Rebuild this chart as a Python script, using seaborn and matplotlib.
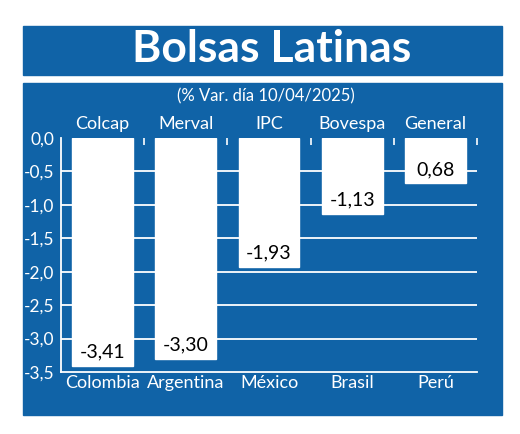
import matplotlib
matplotlib.use('Agg')
import matplotlib.pyplot as plt
import seaborn as sns
import pandas as pd
from matplotlib.patches import Rectangle
from matplotlib.ticker import FixedLocator

# Data
paises = ['Colombia', 'Argentina', 'México', 'Brasil', 'Perú']
indices = ['Colcap', 'Merval', 'IPC', 'Bovespa', 'General']
variacion = [-3.41, -3.30, -1.93, -1.13, 0.68]
y_ticks = [0.0, -0.5, -1.0, -1.5, -2.0, -2.5, -3.0, -3.5]

azul = '#1063a7'
W, H = 520, 434

sns.set_theme(style='white')
plt.rcParams['font.family'] = ['Lato', 'DejaVu Sans']

df = pd.DataFrame({'pais': paises, 'indice': indices, 'var': variacion})
# the source draws every bar downward from zero, even the positive one
df['alto'] = -df['var'].abs()

fig = plt.figure(figsize=(W / 100, H / 100), dpi=100)
fig.patch.set_facecolor('white')

# blue title box and chart panel (behind the axes)
fig.patches.append(Rectangle((23 / W, 1 - 75 / H), 479 / W, 49 / H,
                             transform=fig.transFigure, color=azul, zorder=-10))
fig.patches.append(Rectangle((23 / W, 1 - 415 / H), 479 / W, 332 / H,
                             transform=fig.transFigure, color=azul, zorder=-10))
fig.text(272 / W, 1 - 49 / H, 'Bolsas Latinas', color='white', fontsize=32,
         fontweight='bold', ha='center', va='center')
fig.text(266 / W, 1 - 96 / H, '(% Var. día 10/04/2025)', color='white',
         fontsize=12, ha='center', va='center')

ax = fig.add_axes([61 / W, 62 / H, 416 / W, 234 / H])
ax.set_facecolor(azul)
ax.set_zorder(1)

sns.barplot(data=df, x='pais', y='alto', color='white', width=0.73,
            saturation=1, ax=ax, zorder=3)

ax.set_ylim(-3.5, 0)
ax.set_xlim(-0.5, len(paises) - 0.5)
ax.set_yticks(y_ticks)
ax.set_yticklabels([f'{t:.1f}'.replace('.', ',') for t in y_ticks])
for t in y_ticks[1:-1]:
    ax.axhline(t, color='white', lw=1.3, zorder=1)

ax.set_xlabel('')
ax.set_ylabel('')
ax.tick_params(axis='y', colors='white', labelsize=12.5, length=0, pad=5)
ax.tick_params(axis='x', colors='white', labelsize=13, length=0, pad=2)

for s in ['top', 'right']:
    ax.spines[s].set_visible(False)
for s in ['left', 'bottom']:
    ax.spines[s].set_color('white')
    ax.spines[s].set_linewidth(1.3)

# index names on top, with small ticks between categories
top = ax.secondary_xaxis('top')
top.set_xticks(range(len(indices)))
top.set_xticklabels(indices)
top.tick_params(axis='x', colors='white', labelsize=13, length=0, pad=4)
top.xaxis.set_minor_locator(FixedLocator([i + 0.5 for i in range(len(indices))]))
top.tick_params(axis='x', which='minor', direction='in', length=5,
                width=1.2, colors='white')
top.spines['top'].set_visible(False)

for i, (h, v) in enumerate(zip(df['alto'], df['var'])):
    ax.annotate(f'{v:.2f}'.replace('.', ','), (i, h), xytext=(0, 4),
                textcoords='offset points', ha='center', va='bottom',
                fontsize=14, color='black', zorder=4)

fig.savefig('out.png', dpi=100, facecolor='white')
